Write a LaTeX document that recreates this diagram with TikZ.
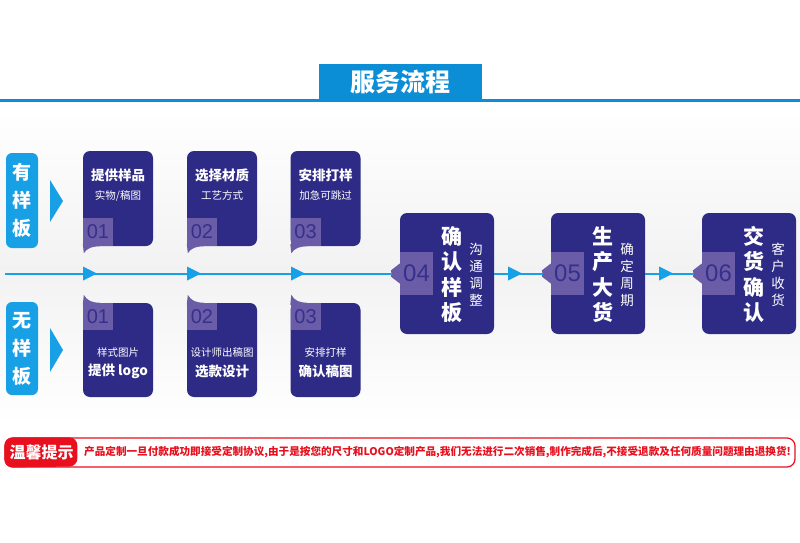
\documentclass[tikz,border=0pt]{standalone}
\usepackage{fontspec}
\setmainfont{Noto Sans CJK SC}
\newfontfamily\numfont{Liberation Sans}
\usetikzlibrary{calc}

\definecolor{cardblue}{HTML}{2E2B87}
\definecolor{tabpurple}{HTML}{6B5CA8}
\definecolor{numpurple}{HTML}{35308C}
\definecolor{skyblue}{HTML}{18A0E6}
\definecolor{titleblue}{HTML}{0B8ED6}
\definecolor{warnred}{HTML}{E8101E}

\newcommand{\fsz}[1]{\fontsize{#1}{#1}\selectfont}

\tikzset{
	card/.style={fill=cardblue, rounded corners=7pt, minimum width=70pt, minimum height=95pt, inner sep=0pt},
	bigcard/.style={card, minimum width=94pt, minimum height=121pt},
	numbox/.style={fill=tabpurple, inner sep=0pt, minimum width=30pt, minimum height=28pt, text=numpurple, font=\numfont\fsz{20}},
	bignum/.style={numbox, minimum width=33pt, minimum height=43pt, font=\numfont\fsz{24}},
	headline/.style={text=white, font=\bfseries\fsz{13.5}},
	subline/.style={text=white, font=\fsz{10.5}},
	bigtext/.style={text=white, font=\bfseries\fontsize{21}{25.5}\selectfont, align=center, inner sep=0pt},
	smalltext/.style={text=white, font=\fontsize{13.5}{17}\selectfont, align=center, inner sep=0pt},
	sidebox/.style={fill=skyblue, rounded corners=6pt, minimum width=32pt, inner sep=0pt, text=white, font=\bfseries\fontsize{19}{28}\selectfont, align=center},
	flow/.style={skyblue, line width=2pt},
}

\begin{document}
\begin{tikzpicture}[x=1pt,y=-1pt]
	\useasboundingbox (0,0) rectangle (800,543);
	\fill[white] (0,0) rectangle (800,543);
	\shade[top color=white, bottom color=white, middle color=black!5] (0,110) rectangle (800,425);

	% title
	\draw[titleblue, line width=3pt] (0,100) -- (800,100);
	\node[fill=titleblue, minimum width=163pt, minimum height=36pt, text=white, font=\bfseries\fsz{25}] (title) at (400.5,82) {服务流程};

	% left labels
	\node[sidebox, minimum height=95pt] (with) at (22,200.5) {有\\样\\板};
	\node[sidebox, minimum height=93pt] (without) at (22,348.5) {无\\样\\板};
	\fill[skyblue] (50,180) -- (63,201) -- (50,222) -- cycle;
	\fill[skyblue] (50,328) -- (63,350) -- (50,372) -- cycle;

	% top row
	\foreach \n/\cx/\hd/\sb in {1/118/提供样品/{实物/稿图}, 2/222/选择材质/工艺方式, 3/325.5/安排打样/加急可跳过}{
		\node[card] (t\n) at (\cx,198.5) {};
		\fill[tabpurple] ($(t\n.south west)+(0,-2)$) -- ($(t\n.south west)+(1,7)$)
			.. controls ($(t\n.south west)+(4,2)$) and ($(t\n.south west)+(10,0)$) .. ($(t\n.south west)+(17,0)$) -- cycle;
		\node[numbox, anchor=south west] (t\n num) at (t\n.south west) {0\n};
		\node[headline] (t\n head) at ([yshift=-25pt]t\n.north) {\hd};
		\node[subline] (t\n sub) at ([yshift=-45pt]t\n.north) {\sb};
	}

	% bottom row
	\foreach \n/\cx/\sb/\hd in {1/118/样式图片/提供 logo, 2/222/设计师出稿图/选款设计, 3/325.5/安排打样/确认稿图}{
		\node[card, minimum height=94pt] (b\n) at (\cx,350) {};
		\fill[tabpurple] ($(b\n.north west)+(0,2)$) -- ($(b\n.north west)+(1,-8)$)
			.. controls ($(b\n.north west)+(4,-2)$) and ($(b\n.north west)+(10,0)$) .. ($(b\n.north west)+(17,0)$) -- cycle;
		\node[numbox, anchor=north west, minimum height=27pt] (b\n num) at (b\n.north west) {0\n};
		\node[subline] (b\n sub) at ([yshift=-50pt]b\n.north) {\sb};
		\node[headline] (b\n head) at ([yshift=-69pt]b\n.north) {\hd};
	}

	% big cards
	\foreach \n/\cx/\hd/\sb in {4/447/确\\认\\样\\板/沟\\通\\调\\整, 5/598/生\\产\\大\\货/确\\定\\周\\期, 6/749/交\\货\\确\\认/客\\户\\收\\货}{
		\node[bigcard] (s\n) at (\cx,273.5) {};
		\coordinate (s\n tip) at ([xshift=-8pt]s\n.west);
		\fill[tabpurple] ([yshift=10pt]s\n.west) -- ([xshift=-1pt,yshift=3pt]s\n tip) .. controls (s\n tip) .. ([xshift=-1pt,yshift=-3pt]s\n tip) -- ([yshift=-10pt]s\n.west) -- cycle;
		\node[bignum, anchor=west] (s\n num) at (s\n.west) {0\n};
		\node[bigtext] (s\n head) at ([xshift=5pt,yshift=-1pt]s\n.center) {\hd};
		\node[smalltext] (s\n sub) at ([xshift=29pt,yshift=-1pt]s\n.center) {\sb};
	}

	% connectors
	\coordinate (start) at (5,273.5);
	\draw[flow] (start) -- (s4tip);
	\draw[flow] (s4.east) -- (s5tip);
	\draw[flow] (s5.east) -- (s6tip);
	\foreach \hx in {83,187,291,508,659}
		\fill[skyblue] (\hx,266.5) -- (\hx+14,273.5) -- (\hx,280.5) -- cycle;

	% notice
	\node[draw=warnred, line width=1.2pt, rounded corners=8pt, minimum width=790pt, minimum height=29pt, inner sep=0pt] (notice) at (400,452.5) {};
	\fill[warnred, rounded corners=8pt] (notice.north west) -- ++(73,0) -- ++(0,29) -- (notice.south west) -- cycle;
	\node[text=white, font=\bfseries\fsz{16}] (tip) at (41.5,452.5) {温馨提示};
	\node[text=warnred, font=\bfseries\fsz{10.6}, anchor=west, inner sep=0pt] (tiptext) at (84,452.5) {产品定制一旦付款成功即接受定制协议,由于是按您的尺寸和LOGO定制产品,我们无法进行二次销售,制作完成后,不接受退款及任何质量问题理由退换货!};

\end{tikzpicture}
\end{document}
